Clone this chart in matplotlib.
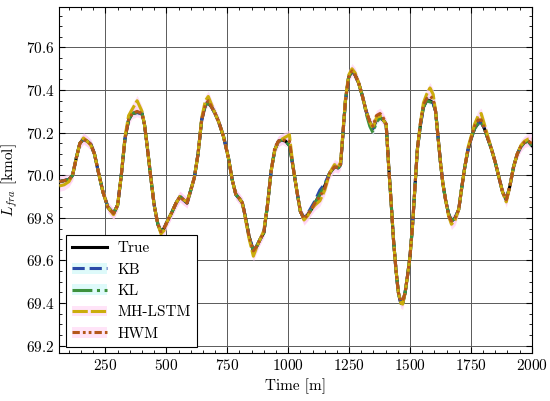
import numpy as np
import matplotlib
matplotlib.use("Agg")
import matplotlib.pyplot as plt
from matplotlib.patches import Patch
from matplotlib.lines import Line2D
from matplotlib.ticker import AutoMinorLocator

plt.rcParams['font.family'] = 'serif'
plt.rcParams['font.serif'] = ['cmr10']
plt.rcParams['mathtext.fontset'] = 'cm'
plt.rcParams['axes.formatter.use_mathtext'] = True
plt.rcParams['font.size'] = 11

# time axis [min]
time = [61, 80, 100, 115, 130, 145, 160, 175, 190, 205, 220, 240, 260, 283, 300, 315, 330, 345, 360, 380,
        400, 410, 420, 435, 450, 465, 478, 490, 502, 520, 540, 556, 570, 585, 600, 615, 630, 645, 660, 672,
        686, 700, 715, 735, 755, 770, 785, 800, 812, 825, 840, 857, 870, 885, 900, 915, 930, 945, 960, 975,
        990, 1005, 1020, 1035, 1050, 1065, 1080, 1095, 1110, 1130, 1150, 1170, 1190, 1205, 1215, 1225, 1235, 1248, 1262, 1275,
        1290, 1305, 1320, 1335, 1348, 1362, 1377, 1390, 1402, 1412, 1422, 1432, 1442, 1452, 1462, 1470, 1480, 1490, 1500, 1510,
        1520, 1530, 1542, 1555, 1568, 1582, 1595, 1605, 1615, 1625, 1635, 1645, 1658, 1670, 1685, 1700, 1712, 1725, 1738, 1750,
        1765, 1780, 1792, 1805, 1820, 1835, 1850, 1865, 1880, 1895, 1910, 1925, 1940, 1955, 1970, 1985, 2000]

true_vals = [69.97, 69.975, 69.98, 70.00, 70.08, 70.15, 70.17, 70.16, 70.145, 70.10, 70.02, 69.92, 69.85, 69.82, 69.86, 70.00, 70.17, 70.26, 70.29, 70.295,
             70.29, 70.24, 70.15, 70.00, 69.86, 69.77, 69.735, 69.75, 69.78, 69.82, 69.87, 69.90, 69.885, 69.87, 69.93, 69.99, 70.10, 70.26, 70.33, 70.34,
             70.32, 70.29, 70.25, 70.18, 70.08, 69.98, 69.91, 69.89, 69.87, 69.80, 69.71, 69.645, 69.665, 69.70, 69.73, 69.86, 70.02, 70.12, 70.16, 70.165,
             70.16, 70.14, 70.04, 69.93, 69.83, 69.795, 69.815, 69.84, 69.87, 69.91, 69.95, 70.01, 70.04, 70.035, 70.05, 70.20, 70.35, 70.46, 70.49, 70.47,
             70.43, 70.37, 70.30, 70.25, 70.22, 70.26, 70.27, 70.26, 70.24, 70.05, 69.88, 69.70, 69.56, 69.45, 69.40, 69.40, 69.45, 69.53, 69.62, 69.76,
             69.94, 70.12, 70.23, 70.32, 70.35, 70.35, 70.34, 70.30, 70.18, 70.06, 69.96, 69.89, 69.82, 69.785, 69.80, 69.84, 69.94, 70.04, 70.12, 70.17,
             70.22, 70.245, 70.25, 70.22, 70.17, 70.12, 70.06, 69.99, 69.92, 69.885, 69.95, 70.04, 70.10, 70.135, 70.155, 70.16, 70.14]

kb_vals = [69.97, 69.975, 69.98, 70.00, 70.08, 70.15, 70.17, 70.16, 70.145, 70.10, 70.02, 69.92, 69.85, 69.82, 69.86, 70.00, 70.17, 70.26, 70.29, 70.295,
           70.29, 70.24, 70.15, 70.00, 69.86, 69.77, 69.735, 69.75, 69.78, 69.82, 69.87, 69.90, 69.885, 69.87, 69.93, 69.99, 70.10, 70.26, 70.33, 70.345,
           70.32, 70.29, 70.25, 70.18, 70.08, 69.98, 69.91, 69.89, 69.87, 69.80, 69.71, 69.645, 69.665, 69.70, 69.73, 69.86, 70.02, 70.12, 70.16, 70.165,
           70.16, 70.14, 70.04, 69.93, 69.83, 69.80, 69.82, 69.85, 69.88, 69.93, 69.96, 70.01, 70.04, 70.035, 70.05, 70.20, 70.35, 70.46, 70.49, 70.47,
           70.43, 70.37, 70.30, 70.25, 70.22, 70.26, 70.27, 70.26, 70.24, 70.05, 69.88, 69.70, 69.56, 69.45, 69.40, 69.40, 69.45, 69.53, 69.62, 69.76,
           69.94, 70.12, 70.23, 70.32, 70.36, 70.35, 70.34, 70.30, 70.18, 70.06, 69.96, 69.89, 69.82, 69.785, 69.80, 69.84, 69.94, 70.04, 70.12, 70.17,
           70.22, 70.245, 70.25, 70.22, 70.17, 70.12, 70.06, 69.99, 69.92, 69.885, 69.95, 70.04, 70.10, 70.135, 70.155, 70.16, 70.14]

kl_vals = [69.97, 69.975, 69.98, 70.00, 70.08, 70.15, 70.17, 70.16, 70.145, 70.10, 70.02, 69.92, 69.85, 69.82, 69.86, 70.00, 70.17, 70.26, 70.29, 70.295,
           70.29, 70.24, 70.15, 70.00, 69.86, 69.77, 69.735, 69.75, 69.78, 69.82, 69.87, 69.90, 69.885, 69.87, 69.93, 69.99, 70.10, 70.26, 70.33, 70.34,
           70.32, 70.29, 70.25, 70.18, 70.08, 69.98, 69.91, 69.89, 69.87, 69.80, 69.71, 69.645, 69.665, 69.70, 69.73, 69.86, 70.02, 70.12, 70.16, 70.165,
           70.16, 70.14, 70.04, 69.93, 69.83, 69.795, 69.815, 69.84, 69.87, 69.91, 69.95, 70.01, 70.04, 70.035, 70.05, 70.20, 70.35, 70.46, 70.49, 70.47,
           70.43, 70.37, 70.29, 70.23, 70.20, 70.25, 70.27, 70.26, 70.24, 70.05, 69.88, 69.70, 69.56, 69.45, 69.40, 69.40, 69.45, 69.53, 69.62, 69.76,
           69.94, 70.12, 70.23, 70.32, 70.35, 70.345, 70.34, 70.30, 70.18, 70.06, 69.96, 69.89, 69.82, 69.785, 69.80, 69.84, 69.94, 70.04, 70.12, 70.17,
           70.22, 70.245, 70.25, 70.22, 70.17, 70.12, 70.06, 69.99, 69.92, 69.885, 69.95, 70.04, 70.10, 70.135, 70.155, 70.16, 70.14]

mhlstm_vals = [69.95, 69.955, 69.97, 70.00, 70.08, 70.15, 70.175, 70.16, 70.14, 70.10, 70.02, 69.92, 69.85, 69.815, 69.86, 70.00, 70.18, 70.28, 70.31, 70.35,
               70.30, 70.24, 70.15, 70.00, 69.86, 69.77, 69.725, 69.74, 69.78, 69.82, 69.87, 69.90, 69.885, 69.875, 69.93, 69.99, 70.10, 70.27, 70.35, 70.37,
               70.33, 70.29, 70.25, 70.18, 70.08, 69.98, 69.91, 69.89, 69.87, 69.79, 69.70, 69.62, 69.66, 69.70, 69.74, 69.86, 70.02, 70.12, 70.16, 70.17,
               70.18, 70.19, 70.04, 69.93, 69.83, 69.79, 69.81, 69.84, 69.86, 69.88, 69.93, 70.01, 70.05, 70.04, 70.06, 70.21, 70.36, 70.47, 70.50, 70.48,
               70.43, 70.37, 70.30, 70.25, 70.22, 70.27, 70.28, 70.26, 70.24, 70.05, 69.88, 69.70, 69.56, 69.45, 69.40, 69.395, 69.45, 69.53, 69.62, 69.76,
               69.94, 70.12, 70.24, 70.34, 70.38, 70.41, 70.38, 70.30, 70.18, 70.06, 69.96, 69.89, 69.81, 69.77, 69.79, 69.84, 69.94, 70.04, 70.13, 70.18,
               70.24, 70.28, 70.29, 70.24, 70.18, 70.12, 70.06, 69.99, 69.92, 69.875, 69.95, 70.04, 70.10, 70.14, 70.16, 70.17, 70.17]

hwm_vals = [69.97, 69.975, 69.98, 70.00, 70.08, 70.15, 70.17, 70.16, 70.145, 70.10, 70.02, 69.92, 69.85, 69.82, 69.86, 70.00, 70.17, 70.26, 70.29, 70.30,
            70.29, 70.24, 70.15, 70.00, 69.86, 69.77, 69.735, 69.75, 69.78, 69.82, 69.87, 69.90, 69.885, 69.87, 69.93, 69.99, 70.10, 70.26, 70.33, 70.35,
            70.32, 70.29, 70.25, 70.18, 70.08, 69.98, 69.91, 69.89, 69.87, 69.80, 69.71, 69.645, 69.665, 69.70, 69.73, 69.86, 70.02, 70.13, 70.16, 70.17,
            70.16, 70.16, 70.04, 69.93, 69.83, 69.795, 69.815, 69.84, 69.87, 69.90, 69.94, 70.01, 70.04, 70.035, 70.05, 70.20, 70.35, 70.46, 70.49, 70.47,
            70.43, 70.37, 70.30, 70.25, 70.23, 70.28, 70.29, 70.27, 70.24, 70.05, 69.88, 69.70, 69.56, 69.45, 69.41, 69.41, 69.45, 69.53, 69.62, 69.76,
            69.94, 70.12, 70.24, 70.33, 70.36, 70.37, 70.36, 70.30, 70.18, 70.06, 69.96, 69.89, 69.81, 69.785, 69.80, 69.84, 69.94, 70.04, 70.12, 70.17,
            70.23, 70.26, 70.26, 70.22, 70.17, 70.12, 70.06, 69.99, 69.92, 69.885, 69.95, 70.04, 70.10, 70.135, 70.155, 70.16, 70.15]

# half widths of the shaded uncertainty bands
kb_band = 0.012
kl_band = 0.012
mhlstm_band = 0.025
hwm_band = 0.025

t = np.array(time)
fig = plt.figure(figsize=(5.5, 4.01), dpi=100)
ax = fig.add_axes([0.108, 0.12, 0.859, 0.8625])

cyan_fill = '#bff6f6'
pink_fill = '#ffcaf2'

series = [
    ('KB', kb_vals, kb_band, '#2a4aa8', (0, (4, 1.6)), cyan_fill),
    ('KL', kl_vals, kl_band, '#3d913d', (0, (6.5, 1.5, 1, 1.5)), cyan_fill),
    ('MH-LSTM', mhlstm_vals, mhlstm_band, '#cbad0c', (0, (5, 1)), pink_fill),
    ('HWM', hwm_vals, hwm_band, '#b4581a', (0, (2.4, 1, 0.9, 1, 0.9, 1)), pink_fill),
]

for name, vals, band, col, ls, fcol in series:
    v = np.array(vals)
    ax.fill_between(t, v - band, v + band, color=fcol, alpha=0.6, lw=0, zorder=1)

ax.plot(t, true_vals, color='black', lw=2.2, zorder=3)
handles = [Line2D([], [], color='black', lw=2.2)]
labels = ['True']
for name, vals, band, col, ls, fcol in series:
    ax.plot(t, vals, color=col, lw=2.2, ls=ls, zorder=4)
    handles.append((Patch(facecolor=fcol, alpha=0.5, lw=0), Line2D([], [], color=col, lw=2.2, ls=ls)))
    labels.append(name)

ax.set_xlim(61, 2000)
ax.set_ylim(69.166, 70.79)
ax.set_xticks([250, 500, 750, 1000, 1250, 1500, 1750, 2000])
ax.set_yticks([69.2, 69.4, 69.6, 69.8, 70.0, 70.2, 70.4, 70.6])
ax.xaxis.set_minor_locator(AutoMinorLocator(5))
ax.yaxis.set_minor_locator(AutoMinorLocator(4))
ax.tick_params(which='both', direction='in', top=True, right=True)
ax.tick_params(which='major', length=4)
ax.tick_params(which='minor', length=2)
ax.grid(True, color='0.35', lw=0.7)
ax.set_axisbelow(True)

ax.set_xlabel('Time [m]')
ax.set_ylabel(r'$L_{fra}$ [kmol]')

leg = ax.legend(handles, labels, loc='lower left', fancybox=False, framealpha=1,
                edgecolor='black', handlelength=2.3, handletextpad=0.7, borderaxespad=0.4)
leg.get_frame().set_linewidth(0.8)

fig.savefig('out.png', dpi=100)
